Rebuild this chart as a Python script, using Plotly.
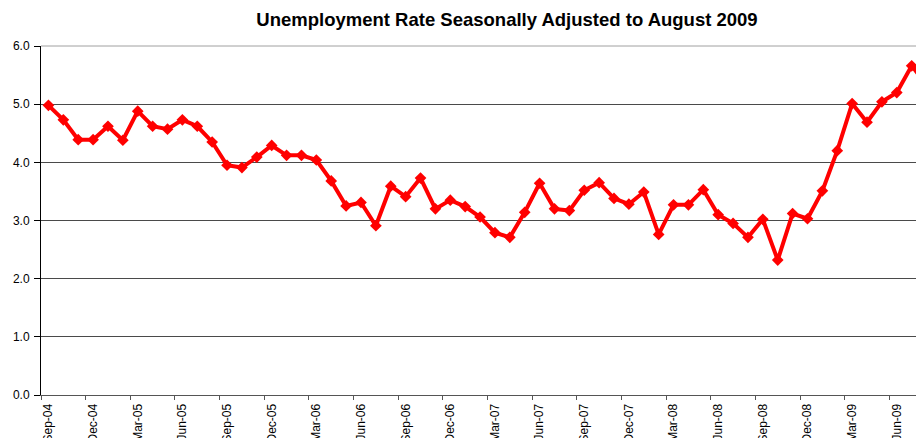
import pandas as pd
import plotly.graph_objects as go

# Monthly categories Sep-2004 .. Aug-2009
months = [d.strftime("%b-%y") for d in pd.date_range("2004-09-01", "2009-08-01", freq="MS")]

# Unemployment rate (%), seasonally adjusted
rate = [4.98, 4.73, 4.39, 4.39, 4.62, 4.38, 4.88, 4.62, 4.57, 4.73,
        4.62, 4.35, 3.95, 3.91, 4.09, 4.29, 4.12, 4.12, 4.04, 3.68,
        3.25, 3.31, 2.91, 3.59, 3.41, 3.73, 3.20, 3.35, 3.24, 3.06,
        2.79, 2.71, 3.14, 3.64, 3.20, 3.17, 3.52, 3.65, 3.38, 3.28,
        3.49, 2.76, 3.27, 3.27, 3.53, 3.10, 2.95, 2.71, 3.02, 2.32,
        3.12, 3.03, 3.51, 4.20, 5.01, 4.69, 5.04, 5.20, 5.66, 5.34]

# Labelled months: every third month plus the last one
label_idx = list(range(0, len(months), 3)) + [len(months) - 1]
label_text = [months[i] for i in label_idx]
# Tick marks sit on the boundary before each quarterly label
tick_marks = [i - 0.5 for i in range(0, len(months), 3)]

y_ticks = [0, 1, 2, 3, 4, 5, 6]

x_idx = list(range(len(months)))

fig = go.Figure()
fig.add_trace(go.Scatter(
    x=x_idx, y=rate, mode="lines+markers",
    line=dict(color="#FF0000", width=4),
    marker=dict(symbol="diamond", size=9, color="#FF0000"),
    text=months, hovertemplate="%{text}: %{y:.2f}<extra></extra>",
))

font_family = "Liberation Sans, Arial, sans-serif"

W, H = 926, 438

fig.update_layout(
    width=W, height=H,
    margin=dict(l=33, r=0, t=38, b=51),
    paper_bgcolor="white", plot_bgcolor="white",
    showlegend=False,
    font=dict(family=font_family, size=12, color="black"),
    title=dict(
        text="<b>Unemployment Rate Seasonally Adjusted to August 2009</b>",
        x=499 / W, xref="container", xanchor="center",
        y=1 - 12 / H, yref="container", yanchor="middle",
        font=dict(family=font_family, size=18.5, color="black"),
    ),
    xaxis=dict(
        type="linear",
        range=[-0.5, len(months) - 0.5],
        tickmode="array", tickvals=label_idx, ticktext=label_text,
        tickangle=-90, ticks="", ticklabeloverflow="allow",
        ticklabelstandoff=3,
        showgrid=False, zeroline=False,
        showline=True, linecolor="#555555", linewidth=1,
        minor=dict(tickmode="array", tickvals=tick_marks, ticks="outside",
                   ticklen=4, tickcolor="#555555", showgrid=False),
        tickfont=dict(size=12),
    ),
    yaxis=dict(
        range=[0, 6], tickmode="array", tickvals=y_ticks,
        tickformat=".1f",
        ticks="outside", ticklen=6, tickcolor="black",
        showgrid=True, gridcolor="#4a4a4a", gridwidth=1,
        zeroline=False,
        showline=True, linecolor="black", linewidth=1,
        tickfont=dict(size=12),
        ticklabelstandoff=2,
    ),
    shapes=[dict(type="line", xref="paper", yref="paper", x0=0, x1=1, y0=1, y1=1,
                 line=dict(color="#a0a0a0", width=1))],
)

fig.write_html("out.html")
